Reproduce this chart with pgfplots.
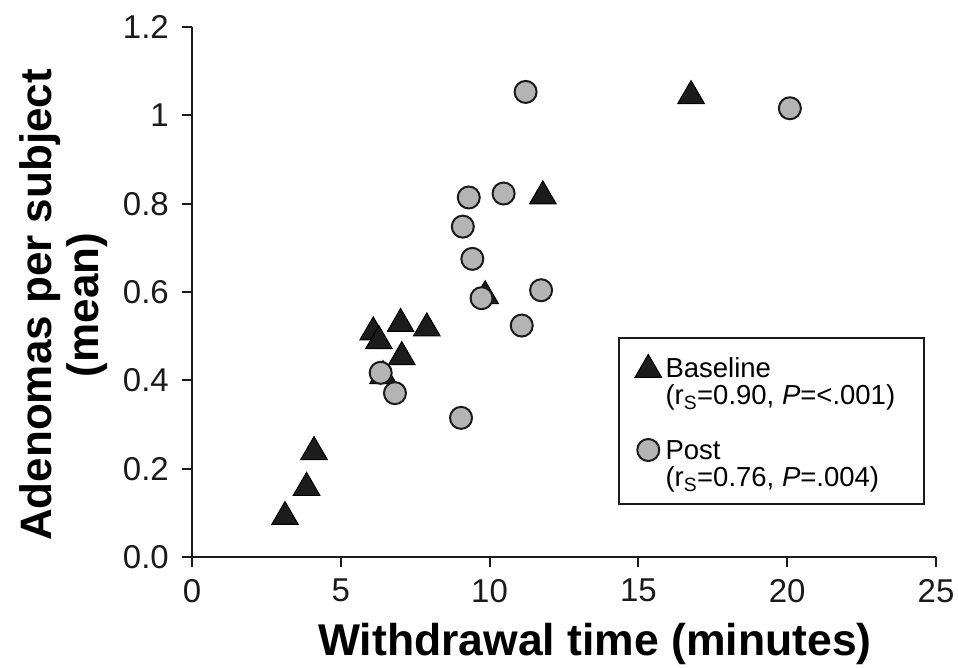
\documentclass[border=0pt]{standalone}
\usepackage{pgfplots}
\pgfplotsset{compat=1.18}
\usepackage{fontspec}
\setmainfont{Liberation Sans}
\definecolor{trifill}{HTML}{1C1C1C}
\definecolor{circfill}{HTML}{B4B4B4}
\definecolor{axcol}{HTML}{1A1A1A}
\pgfplotsset{ptlegend/.style={legend image code/.code={\draw[##1] plot coordinates {(0pt,#1)};}}}
\begin{document}
\begin{tikzpicture}
\begin{axis}[
  scale only axis, width=744pt, height=530pt,
  xmin=0, xmax=25, ymin=0, ymax=1.2,
  clip=false,
  axis lines*=left,
  axis line style={line width=2pt, axcol},
  xtick={0,5,10,15,20,25},
  xticklabels={0,5,10,15,20,25},
  ytick={0,0.2,0.4,0.6,0.8,1,1.2},
  yticklabels={0.0,0.2,0.4,0.6,0.8,1,1.2},
  tick align=outside, major tick length=10pt,
  tick style={line width=2pt, axcol},
  /pgf/number format/assume math mode=true,
  tick label style={font=\fontsize{33}{36}\selectfont, inner sep=0pt, text=axcol},
  xticklabel style={anchor=north, yshift=-12pt},
  yticklabel style={anchor=east, xshift=-13pt},
  xlabel={Withdrawal time (minutes)},
  xlabel style={font=\bfseries\fontsize{44.5}{48}\selectfont, at={(axis description cs:0.5417,-0.185)}, anchor=base, inner sep=0pt},
  ylabel={Adenomas per subject\\(mean)},
  ylabel style={font=\bfseries\fontsize{44}{47}\selectfont, align=center, at={(axis description cs:-0.1727,0.4755)}, anchor=center, inner sep=0pt},
  legend style={at={(0.5726,0.4151)}, anchor=north west, draw=axcol, line width=2pt,
    inner xsep=16pt, inner ysep=10pt, column sep=4pt, row sep=0pt,
    cells={anchor=base west}, nodes={inner sep=0pt, text depth=, text height=},
    font=\fontsize{27.5}{30}\selectfont},
]
\coordinate (O) at (rel axis cs:0,0);
\addplot[only marks, mark=triangle*, mark size=15.3pt,
  mark options={fill=trifill, draw=black, line width=1pt}, ptlegend=8.3pt]
coordinates {
(3.125,0.091) (3.85,0.157) (4.10,0.238) (6.09,0.509) (6.28,0.489)
(7.01,0.528) (7.89,0.518) (7.05,0.453) (6.42,0.410) (9.85,0.591)
(11.79,0.817) (16.77,1.044)
};
\addlegendentry{\rule[-7pt]{0pt}{37pt}Baseline}
\addlegendimage{empty legend}
\addlegendentry{\rule[-34pt]{0pt}{54pt}(r\textsubscript{S}=0.90, \textit{P}=<.001)\hspace*{13pt}}
\addplot[only marks, mark=*, mark size=11pt,
  mark options={fill=circfill, draw=axcol, line width=2pt}, ptlegend=10pt]
coordinates {
(11.21,1.053) (20.09,1.016) (9.30,0.814) (10.47,0.823) (9.10,0.748)
(9.42,0.675) (9.73,0.586) (11.73,0.604) (11.08,0.524) (6.34,0.417)
(6.82,0.371) (9.04,0.315)
};
\addlegendentry{\rule[-7pt]{0pt}{27pt}Post}
\addlegendimage{empty legend}
\addlegendentry{\rule[-7pt]{0pt}{27pt}(r\textsubscript{S}=0.76, \textit{P}=.004)}
\end{axis}
\pgfresetboundingbox
\path[use as bounding box] ([shift={(-192pt,-111pt)}]O) rectangle ([shift={(766pt,557pt)}]O);
\end{tikzpicture}
\end{document}
